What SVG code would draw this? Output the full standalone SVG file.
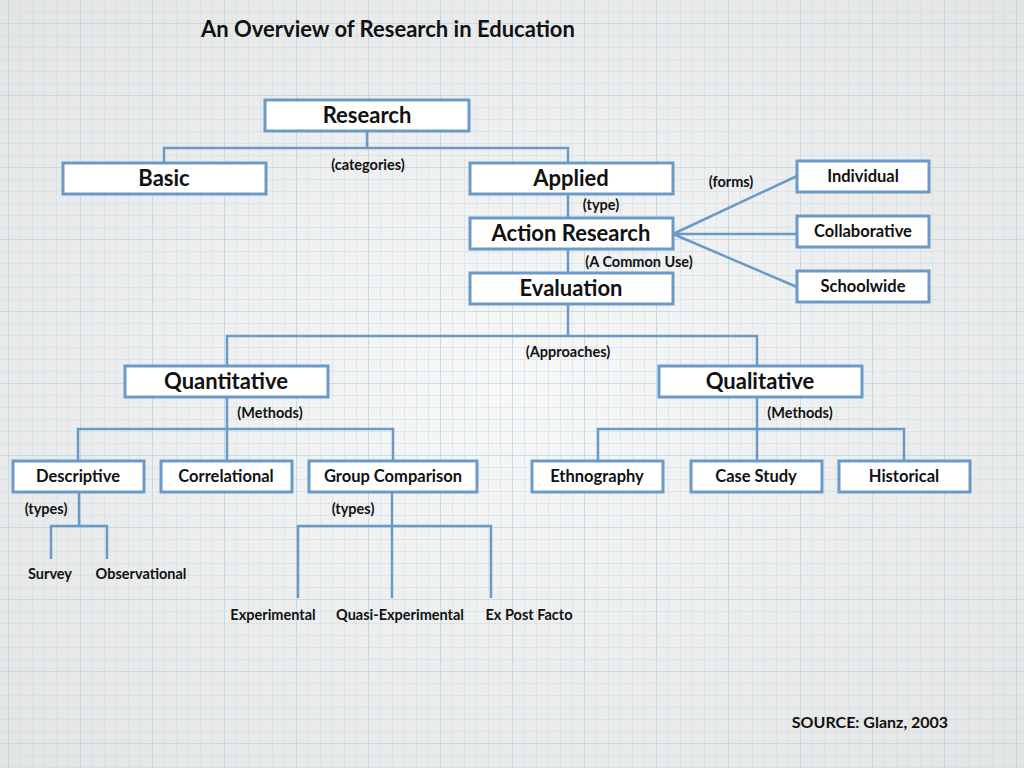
<svg xmlns="http://www.w3.org/2000/svg" width="1024" height="768" viewBox="0 0 1024 768">
<defs>
<radialGradient id="bg" cx="50%" cy="50%" r="70%">
<stop offset="0" stop-color="#f8f8f8"/>
<stop offset="1" stop-color="#e4e4e4"/>
</radialGradient>
<pattern id="minor" x="8" y="11" width="12" height="12" patternUnits="userSpaceOnUse">
<path d="M0 0H12M0 0V12" fill="none" stroke="#c4e0e9" stroke-width="1"/>
</pattern>
<pattern id="major" x="8" y="23" width="72" height="72" patternUnits="userSpaceOnUse">
<path d="M0 0H72M0 0V72" fill="none" stroke="#b0d5e2" stroke-width="1.2"/>
</pattern>
</defs>
<style>
.box{fill:#ffffff;stroke:#6a9bc8;stroke-width:3}
.con{fill:none;stroke:#6a9bc8;stroke-width:2.5}
text{font-family:Lato,"Open Sans","Liberation Sans",sans-serif;font-weight:bold;fill:#111111;text-anchor:middle}
.big{font-size:22px}
.mid{font-size:16.5px}
.lbl{font-size:14.5px}
.title{font-size:22px}
</style>
<rect width="1024" height="768" fill="url(#bg)"/>
<rect width="1024" height="768" fill="url(#minor)"/>
<rect width="1024" height="768" fill="url(#major)"/>

<text class="title" x="388" y="37">An Overview of Research in Education</text>

<g id="connectors">
<path class="con" d="M367 131V148M164 163V148H568V163"/>
<path class="con" d="M568 194V218M568 249V273M568 304V336"/>
<path class="con" d="M227 366V336H757V366"/>
<path class="con" d="M673 234L797 176M673 234H797M673 234L797 287"/>
<path class="con" d="M227 397V429M78 461V429H393V461M227 429V461"/>
<path class="con" d="M757 397V429M598 461V429H904V461M757 429V461"/>
<path class="con" d="M79 492V526M51 559V526H107V559"/>
<path class="con" d="M392 492V598M298 598V526H491V598"/>
</g>

<g id="research"><rect class="box" x="265" y="100" width="204" height="31"/><text class="big" x="367" y="123">Research</text></g>
<g id="basic"><rect class="box" x="63" y="163" width="203" height="31"/><text class="big" x="164" y="186">Basic</text></g>
<g id="applied"><rect class="box" x="470" y="163" width="203" height="31"/><text class="big" x="571" y="186">Applied</text></g>
<g id="action-research"><rect class="box" x="470" y="218" width="203" height="31"/><text class="big" x="571" y="241">Action Research</text></g>
<g id="evaluation"><rect class="box" x="470" y="273" width="203" height="31"/><text class="big" x="571" y="296">Evaluation</text></g>
<g id="individual"><rect class="box" x="797" y="161" width="132" height="31"/><text class="mid" x="863" y="182">Individual</text></g>
<g id="collaborative"><rect class="box" x="797" y="216" width="132" height="31"/><text class="mid" x="863" y="237">Collaborative</text></g>
<g id="schoolwide"><rect class="box" x="797" y="271" width="132" height="31"/><text class="mid" x="863" y="292">Schoolwide</text></g>
<g id="quantitative"><rect class="box" x="125" y="366" width="203" height="31"/><text class="big" x="226" y="389">Quantitative</text></g>
<g id="qualitative"><rect class="box" x="659" y="366" width="203" height="31"/><text class="big" x="760" y="389">Qualitative</text></g>
<g id="descriptive"><rect class="box" x="13" y="461" width="131" height="31"/><text class="mid" x="78" y="482">Descriptive</text></g>
<g id="correlational"><rect class="box" x="161" y="461" width="131" height="31"/><text class="mid" x="226" y="482">Correlational</text></g>
<g id="group-comparison"><rect class="box" x="309" y="461" width="168" height="31"/><text class="mid" x="393" y="482">Group Comparison</text></g>
<g id="ethnography"><rect class="box" x="532" y="461" width="131" height="31"/><text class="mid" x="597" y="482">Ethnography</text></g>
<g id="case-study"><rect class="box" x="691" y="461" width="131" height="31"/><text class="mid" x="756" y="482">Case Study</text></g>
<g id="historical"><rect class="box" x="839" y="461" width="131" height="31"/><text class="mid" x="904" y="482">Historical</text></g>

<g id="labels">
<text class="lbl" x="368" y="170">(categories)</text>
<text class="lbl" x="601" y="210">(type)</text>
<text class="lbl" x="639" y="267">(A Common Use)</text>
<text class="lbl" x="731" y="187">(forms)</text>
<text class="lbl" x="568" y="357">(Approaches)</text>
<text class="lbl" x="270" y="418">(Methods)</text>
<text class="lbl" x="800" y="418">(Methods)</text>
<text class="lbl" x="46" y="514">(types)</text>
<text class="lbl" x="353" y="514">(types)</text>
<text class="lbl" x="50" y="579">Survey</text>
<text class="lbl" x="141" y="579">Observational</text>
<text class="lbl" x="273" y="620">Experimental</text>
<text class="lbl" x="400" y="620">Quasi-Experimental</text>
<text class="lbl" x="529" y="620">Ex Post Facto</text>
<text style="font-size:16px" x="870" y="728">SOURCE: Glanz, 2003</text>
</g>
</svg>
